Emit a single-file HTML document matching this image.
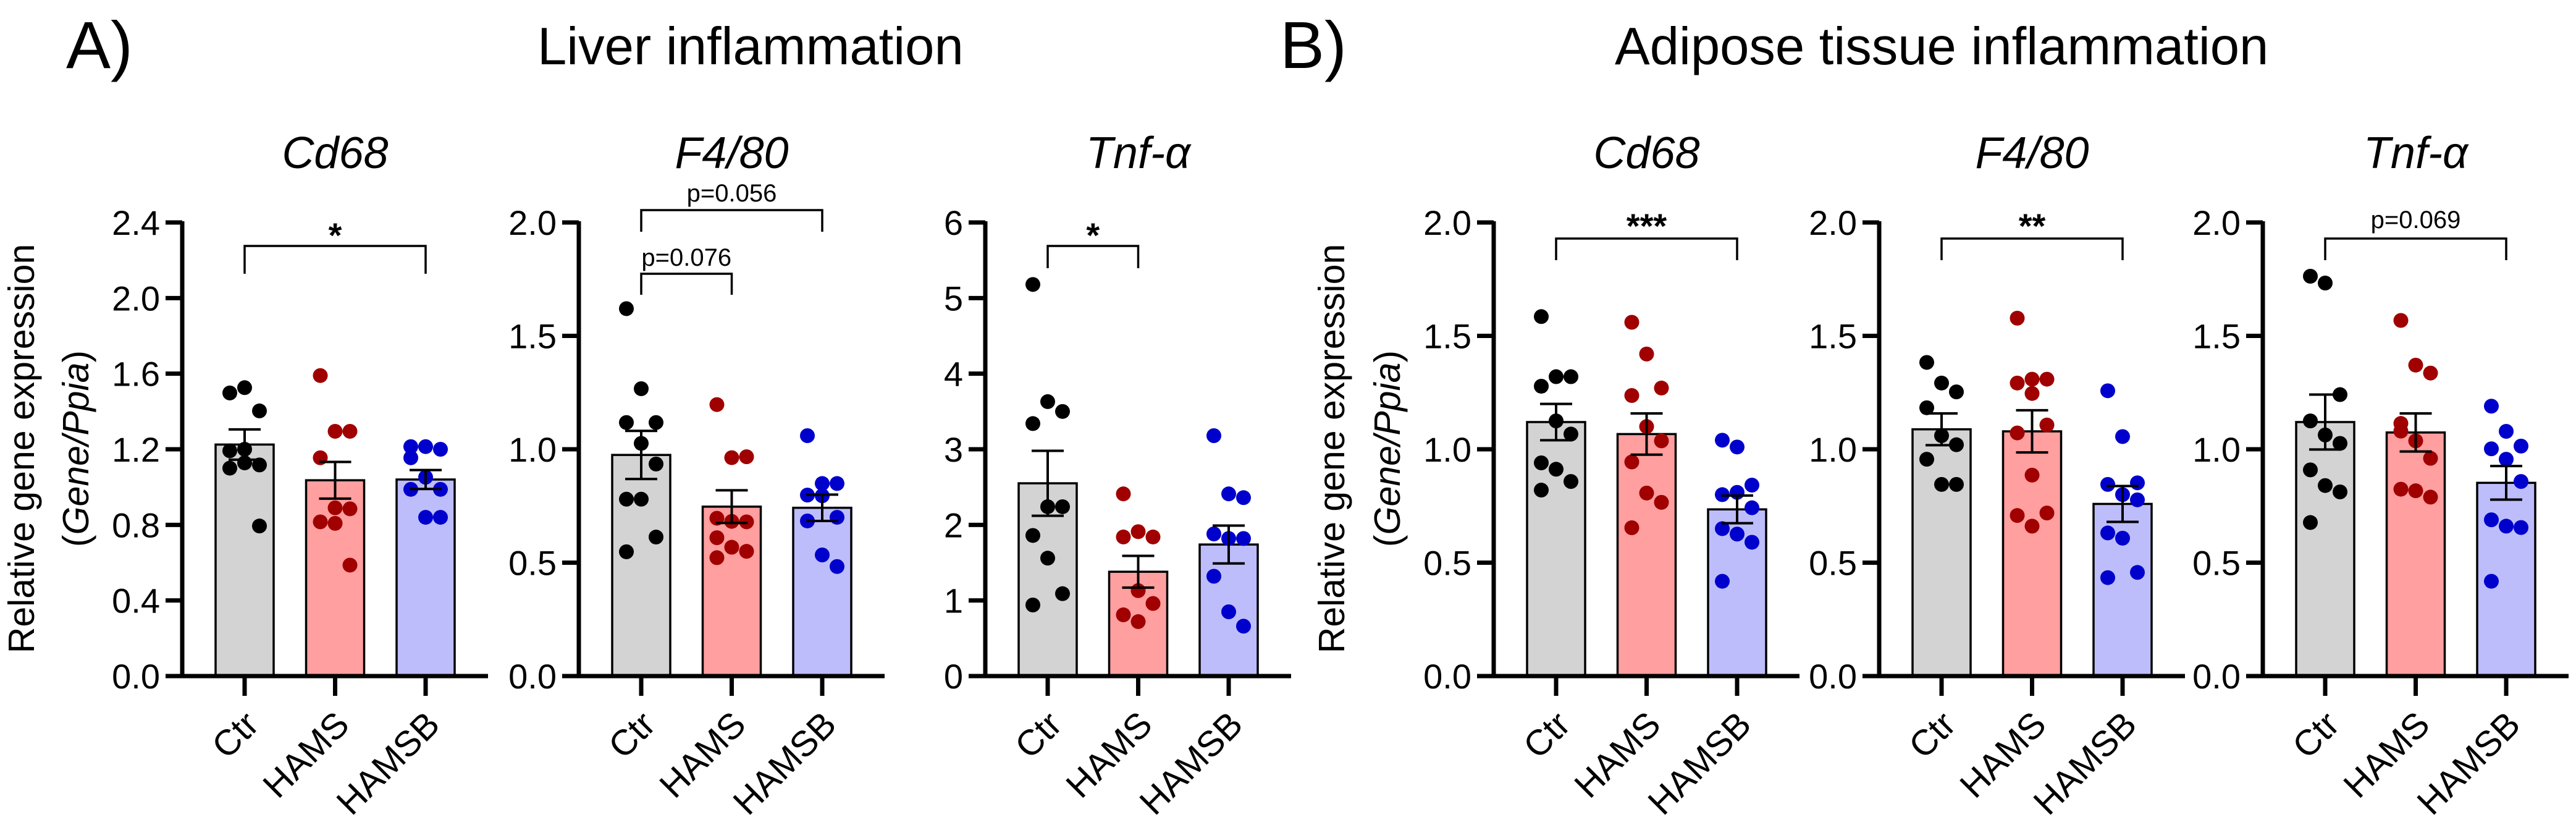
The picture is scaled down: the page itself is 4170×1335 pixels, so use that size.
<!DOCTYPE html>
<html><head><meta charset="utf-8"><style>
html,body{margin:0;padding:0;background:#fff;}
svg{display:block;font-family:"Liberation Sans",Arial,sans-serif;}
</style></head><body>
<svg id="fig" width="4170" height="1335" viewBox="0 0 4170 1335" xmlns="http://www.w3.org/2000/svg">
<text x="107" y="110" font-size="108">A)</text>
<text x="870" y="104" font-size="85">Liver inflammation</text>
<text x="2072" y="110" font-size="108">B)</text>
<text x="2614" y="104" font-size="85">Adipose tissue inflammation</text>
<g transform="translate(55,726) rotate(-90)"><text text-anchor="middle" font-size="59">Relative gene expression</text></g>
<g transform="translate(143,726) rotate(-90)"><text text-anchor="middle" font-size="59">(<tspan font-style="italic">Gene/Ppia</tspan>)</text></g>
<g transform="translate(2176,726) rotate(-90)"><text text-anchor="middle" font-size="59">Relative gene expression</text></g>
<g transform="translate(2266,726) rotate(-90)"><text text-anchor="middle" font-size="59">(<tspan font-style="italic">Gene/Ppia</tspan>)</text></g>
</svg>
<script>
const categories = ["Ctr","HAMS","HAMSB"];
const panelTitles = ["Cd68","F4/80","Tnf-α","Cd68","F4/80","Tnf-α"];
const yMax = [2.4,2.0,6,2.0,2.0,2.0];
const yStep = [0.4,0.5,1,0.5,0.5,0.5];
const tickDecimals = [1,1,0,1,1,1];
const means1=[1.225,1.036,1.04], sem1=[0.08,0.097,0.05];
const means2=[0.975,0.747,0.742], sem2=[0.106,0.072,0.058];
const means3=[2.55,1.38,1.74], sem3=[0.43,0.21,0.25];
const means4=[1.12,1.067,0.735], sem4=[0.08,0.091,0.061];
const means5=[1.088,1.079,0.759], sem5=[0.07,0.093,0.079];
const means6=[1.12,1.074,0.852], sem6=[0.121,0.084,0.074];
const pts1Ctr=[1.498,1.526,1.403,1.192,1.128,1.117,1.10,1.20,0.794];
const pts1Hams=[1.59,1.295,1.295,1.155,0.89,0.885,0.816,0.808,0.587];
const pts1Hamsb=[1.214,1.214,1.20,1.155,1.052,0.988,0.988,0.84,0.84];
const pts2Ctr=[1.62,1.267,1.118,1.118,1.026,0.935,0.78,0.78,0.613,0.548];
const pts2Hams=[1.197,0.963,0.967,0.696,0.682,0.68,0.61,0.568,0.55,0.522];
const pts2Hamsb=[1.06,0.849,0.849,0.798,0.795,0.70,0.684,0.534,0.483];
const pts3Ctr=[5.18,3.63,3.5,3.34,2.24,2.24,1.86,1.56,1.09,0.94];
const pts3Hams=[2.41,1.91,1.84,1.84,1.13,0.96,0.81,0.72];
const pts3Hamsb=[3.18,2.41,2.36,1.88,1.82,1.82,1.32,0.85,0.66];
const pts4Ctr=[1.585,1.32,1.32,1.278,1.125,1.067,0.94,0.912,0.858,0.82];
const pts4Hams=[1.56,1.42,1.27,1.237,1.10,1.037,0.944,0.807,0.766,0.654];
const pts4Hamsb=[1.04,1.01,0.842,0.80,0.81,0.742,0.65,0.626,0.59,0.418];
const pts5Ctr=[1.383,1.292,1.253,1.183,1.06,1.02,0.956,0.845,0.845];
const pts5Hams=[1.578,1.309,1.309,1.292,1.246,1.107,1.072,0.886,0.719,0.708,0.661];
const pts5Hamsb=[1.258,1.056,0.852,0.845,0.80,0.777,0.631,0.608,0.457,0.434];
const pts6Ctr=[1.763,1.733,1.241,1.125,1.063,1.026,0.909,0.84,0.812,0.677];
const pts6Hams=[1.568,1.371,1.336,1.114,1.037,0.96,0.824,0.817,0.789,1.08];
const pts6Hamsb=[1.19,1.079,1.014,1.002,0.956,0.858,0.689,0.661,0.655,0.418];
const sigLabels=[["*"],["p=0.056","p=0.076"],["*"],["***"],["**"],["p=0.069"]];

const allMeans=[means1,means2,means3,means4,means5,means6];
const allSem=[sem1,sem2,sem3,sem4,sem5,sem6];
const allPts=[[pts1Ctr,pts1Hams,pts1Hamsb],[pts2Ctr,pts2Hams,pts2Hamsb],[pts3Ctr,pts3Hams,pts3Hamsb],[pts4Ctr,pts4Hams,pts4Hamsb],[pts5Ctr,pts5Hams,pts5Hamsb],[pts6Ctr,pts6Hams,pts6Hamsb]];

const axisX=[295,937,1595,2418,3042,3663];
const Y0=1094, YTOP=360;
const barFill=["#d3d3d3","#ff9f9f","#bdbdfc"];
const dotFill=["#000000","#a00000","#0000cc"];
const brackets=[
 [{a:0,b:2,y:398,d:443,ly:380,fs:56}],
 [{a:0,b:2,y:340,d:375,ly:312,fs:40},{a:0,b:1,y:443,d:477,ly:416,fs:40}],
 [{a:0,b:1,y:398,d:434,ly:380,fs:56}],
 [{a:0,b:2,y:386,d:421,ly:365,fs:56}],
 [{a:0,b:2,y:386,d:421,ly:365,fs:56}],
 [{a:0,b:2,y:386,d:421,ly:355,fs:40}]
];
const svg=document.getElementById('fig');
const NS="http://www.w3.org/2000/svg";
function mk(tag,attrs,parent){const e=document.createElementNS(NS,tag);for(const k in attrs)e.setAttribute(k,attrs[k]);(parent||svg).appendChild(e);return e;}

for(let p=0;p<6;p++){
  const ax=axisX[p];
  const xPos=i=>ax+101+i*146.5;
  const yPos=v=>Y0-(v/yMax[p])*(Y0-YTOP);
  const g=mk('g',{});
  
  
  const t=mk('text',{x:xPos(1),y:272,'font-size':72,'font-style':'italic','text-anchor':'middle'},g);
  t.textContent=panelTitles[p];
  
  
  for(let i=0;i<3;i++){
    const m=allMeans[p][i];
    const r=mk('rect',{x:xPos(i)-47,y:yPos(m),width:94,height:Y0-yPos(m),fill:barFill[i],stroke:'#000','stroke-width':3.5},g);
    
    
  }
  for(let i=0;i<3;i++){
    const arr=allPts[p][i];
    arr.forEach((v,k)=>{
      const jit=((k%3)-1)*24;
      const c=mk('circle',{cx:xPos(i)+jit,cy:yPos(v),r:12,fill:dotFill[i]},g);
      
      
    });
  }
  for(let i=0;i<3;i++){
    const m=allMeans[p][i],s=allSem[p][i],x=xPos(i);
    const e=mk('path',{d:`M${x},${yPos(m-s)}V${yPos(m+s)}M${x-26},${yPos(m+s)}H${x+26}M${x-26},${yPos(m-s)}H${x+26}`,stroke:'#000','stroke-width':4,fill:'none'},g);
    
    
  }
  const ya=mk('line',{x1:ax,y1:YTOP-2,x2:ax,y2:Y0+3.5,stroke:'#000','stroke-width':7},g);
  
  
  const xa=mk('line',{x1:ax-27,y1:Y0,x2:xPos(2)+101,y2:Y0,stroke:'#000','stroke-width':7},g);
  
  
  const n=Math.round(yMax[p]/yStep[p]);
  for(let k=0;k<=n;k++){
    const v=k*yStep[p],y=yPos(v);
    mk('line',{x1:ax-27,y1:y,x2:ax,y2:y,stroke:'#000','stroke-width':7},g);
    const tl=mk('text',{x:ax-36,y:y+20,'font-size':56,'text-anchor':'end'},g);
    tl.textContent=v.toFixed(tickDecimals[p]);
    
    
  }
  for(let i=0;i<3;i++){
    const x=xPos(i);
    mk('line',{x1:x,y1:Y0,x2:x,y2:Y0+32,stroke:'#000','stroke-width':7},g);
    const xl=mk('text',{'font-size':58,'text-anchor':'end',transform:`translate(${x+26},${Y0+82}) rotate(-45)`},g);
    xl.textContent=categories[i];
    
    
  }
  brackets[p].forEach((b,k)=>{
    const x1=xPos(b.a),x2=xPos(b.b);
    const br=mk('path',{d:`M${x1},${b.d}V${b.y}H${x2}V${b.d}`,stroke:'#000','stroke-width':3.5,fill:'none'},g);
    
    
    const lb=mk('text',{x:(x1+x2)/2,y:b.ly+(b.fs>50?20:14),'font-size':b.fs,'font-weight':b.fs>50?'bold':'normal','text-anchor':'middle'},g);
    lb.textContent=sigLabels[p][k];
    
    
  });
}
</script>
</body></html>
